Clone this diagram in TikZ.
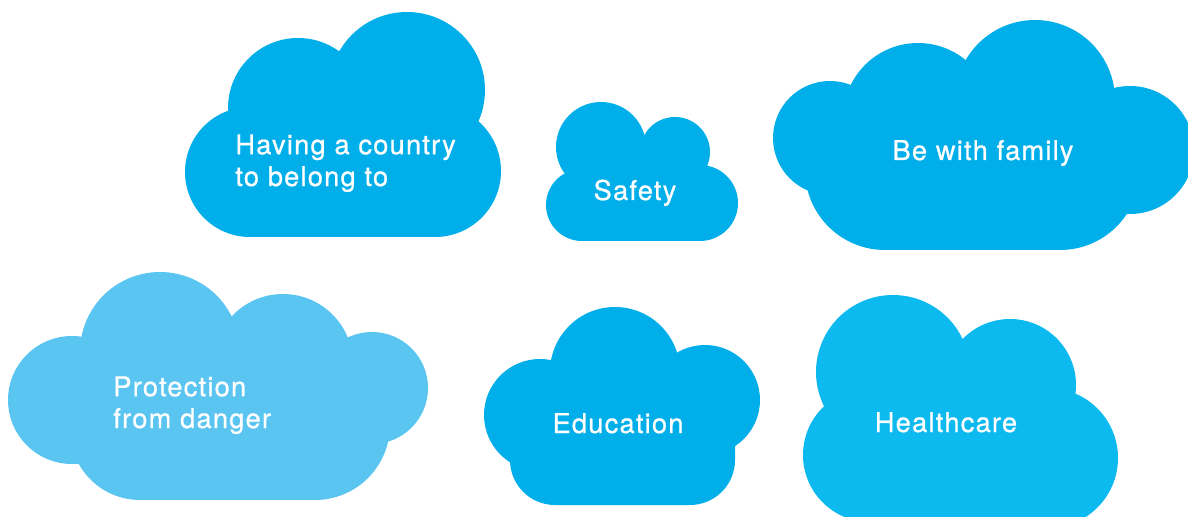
\documentclass[tikz,border=0pt]{standalone}
\usepackage{fontspec}
\newfontfamily\cloudfont[LetterSpace=4.5,FakeBold=0.7]{TeX Gyre Heros}
\definecolor{cloudblue}{HTML}{00AEEA}
\definecolor{cloudlight}{HTML}{5BC5F1}
\definecolor{cloudsky}{HTML}{0DBAEF}
\begin{document}
\begin{tikzpicture}[x=0.02cm,y=-0.02cm,
      cloudtext/.style={text=white,inner sep=0pt,align=left,
        font=\cloudfont\fontsize{15.5}{18.1}\selectfont}]
  \clip (0,0) rectangle (1188,517);
  % having a country
  \foreach \cx/\cy/\r in {407/90/78, 298/108/70, 250/172/65, 435/171/66}
    \fill[cloudblue] (\cx,\cy) circle (\r);
  \fill[cloudblue] (250,120) rectangle (435,237);
  % safety
  \foreach \cx/\cy/\r in {601/147/45, 675/152/35, 582/205/36, 700/203/38}
    \fill[cloudblue] (\cx,\cy) circle (\r);
  \fill[cloudblue] (582,160) rectangle (700,241);
  % family
  \foreach \cx/\cy/\r in {1035/100/80, 918/118/75, 830/138/57, 1130/150/64, 885/170/80, 1060/170/80}
    \fill[cloudblue] (\cx,\cy) circle (\r);
  \fill[cloudblue] (885,100) rectangle (1060,250);
  % protection
  \foreach \cx/\cy/\r in {72/400/64, 160/352/80, 283/364/70, 372/388/56, 140/430/70, 315/425/75}
    \fill[cloudlight] (\cx,\cy) circle (\r);
  \fill[cloudlight] (140,350) rectangle (315,500);
  % education
  \foreach \cx/\cy/\r in {615/372/65, 540/415/56, 705/400/55}
    \fill[cloudblue] (\cx,\cy) circle (\r);
  \fill[cloudblue,rounded corners=0.9cm] (510,380) rectangle (735,505);
  % healthcare
  \foreach \cx/\cy/\r in {893/372/77, 1010/385/66, 870/455/67, 1048/458/70}
    \fill[cloudsky] (\cx,\cy) circle (\r);
  \fill[cloudsky] (870,380) rectangle (1048,530);

  \node[cloudtext,anchor=north west] (country) at (235,134) {Having a country\\to belong to};
  \node[cloudtext,anchor=base] (safety) at (635,200) {Safety};
  \node[cloudtext,anchor=base] (family) at (983,160) {Be with family};
  \node[cloudtext,anchor=north west] (protection) at (113,376) {Protection\\from danger};
  \node[cloudtext,anchor=base] (education) at (618,433) {Education};
  \node[cloudtext,anchor=base] (healthcare) at (946,432) {Healthcare};
\end{tikzpicture}
\end{document}
